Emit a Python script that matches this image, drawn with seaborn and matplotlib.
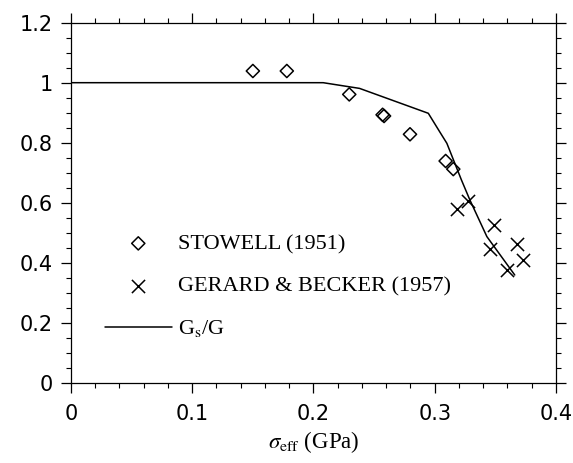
import numpy as np
import pandas as pd
import matplotlib
matplotlib.use("Agg")
import matplotlib.pyplot as plt
import seaborn as sns
from matplotlib.ticker import MultipleLocator

# Data
stowell_x = [0.150, 0.178, 0.2295, 0.2570, 0.2582, 0.2796, 0.309, 0.3153]
stowell_y = [1.039, 1.039, 0.961, 0.893, 0.889, 0.828, 0.739, 0.712]

gerard_x = [0.3186, 0.3277, 0.349, 0.3456, 0.3676, 0.3725, 0.360]
gerard_y = [0.578, 0.607, 0.526, 0.445, 0.462, 0.409, 0.376]

gsg_x = [0.0, 0.100, 0.208, 0.238, 0.2947, 0.304, 0.310, 0.322, 0.329, 0.343, 0.366]
gsg_y = [1.0, 1.0, 1.0, 0.981, 0.898, 0.837, 0.798, 0.676, 0.609, 0.487, 0.359]

labels = ["STOWELL (1951)", "GERARD & BECKER (1957)", r"G$_{\rm s}$/G"]
x_ticks = [0, 0.1, 0.2, 0.3, 0.4]
y_ticks = [0, 0.2, 0.4, 0.6, 0.8, 1.0, 1.2]
x_tick_labels = ["0", "0.1", "0.2", "0.3", "0.4"]
y_tick_labels = ["0", "0.2", "0.4", "0.6", "0.8", "1", "1.2"]

sns.set_style("ticks")
plt.rcParams["font.family"] = ["DejaVu Sans"]
plt.rcParams["mathtext.fontset"] = "stix"
plt.rcParams["text.color"] = "black"

fig = plt.figure(figsize=(5.73, 4.63), dpi=100)
ax = fig.add_axes([0.1239, 0.1734, 0.8464, 0.7776])

df_line = pd.DataFrame({"x": gsg_x, "y": gsg_y})
sns.lineplot(data=df_line, x="x", y="y", ax=ax, color="black", lw=1.1,
             sort=False, label=labels[2], estimator=None)
sns.scatterplot(x=stowell_x, y=stowell_y, ax=ax, marker="D", s=45,
                facecolor="none", edgecolor="black", linewidth=1.1,
                label=labels[0])
sns.scatterplot(x=gerard_x, y=gerard_y, ax=ax, marker="x", s=90,
                color="black", linewidth=1.1, label=labels[1])

ax.set_xlim(0, 0.4)
ax.set_ylim(0, 1.2)
ax.set_xticks(x_ticks)
ax.set_xticklabels(x_tick_labels)
ax.set_yticks(y_ticks)
ax.set_yticklabels(y_tick_labels)
ax.xaxis.set_minor_locator(MultipleLocator(0.02))
ax.yaxis.set_minor_locator(MultipleLocator(0.05))
ax.tick_params(axis="both", which="major", direction="out", length=7,
               width=0.9, labelsize=15, top=True, right=True, color="black",
               labelcolor="black")
ax.tick_params(axis="both", which="minor", direction="out", length=3.5,
               width=0.8, top=True, right=True, color="black")
ax.tick_params(axis="x", which="major", pad=8)
ax.tick_params(axis="y", which="major", pad=6)
for sp in ax.spines.values():
    sp.set_visible(True)
    sp.set_linewidth(0.9)
    sp.set_color("black")

ax.set_xlabel(r"$\sigma_{\rm eff}$ (GPa)", fontsize=16.5, family="Liberation Serif",
              labelpad=4, color="black")
ax.set_ylabel("")

handles, labs = ax.get_legend_handles_labels()
order = [labs.index(l) for l in labels]
leg = ax.legend([handles[i] for i in order], [labs[i] for i in order],
                loc="upper left", bbox_to_anchor=(0.07, 0.414), frameon=False,
                prop={"family": "Liberation Serif", "size": 16},
                handlelength=3.0, handletextpad=0.27, labelspacing=0.98,
                borderpad=0, borderaxespad=0, labelcolor="black")

fig.savefig("out.png", dpi=100)
